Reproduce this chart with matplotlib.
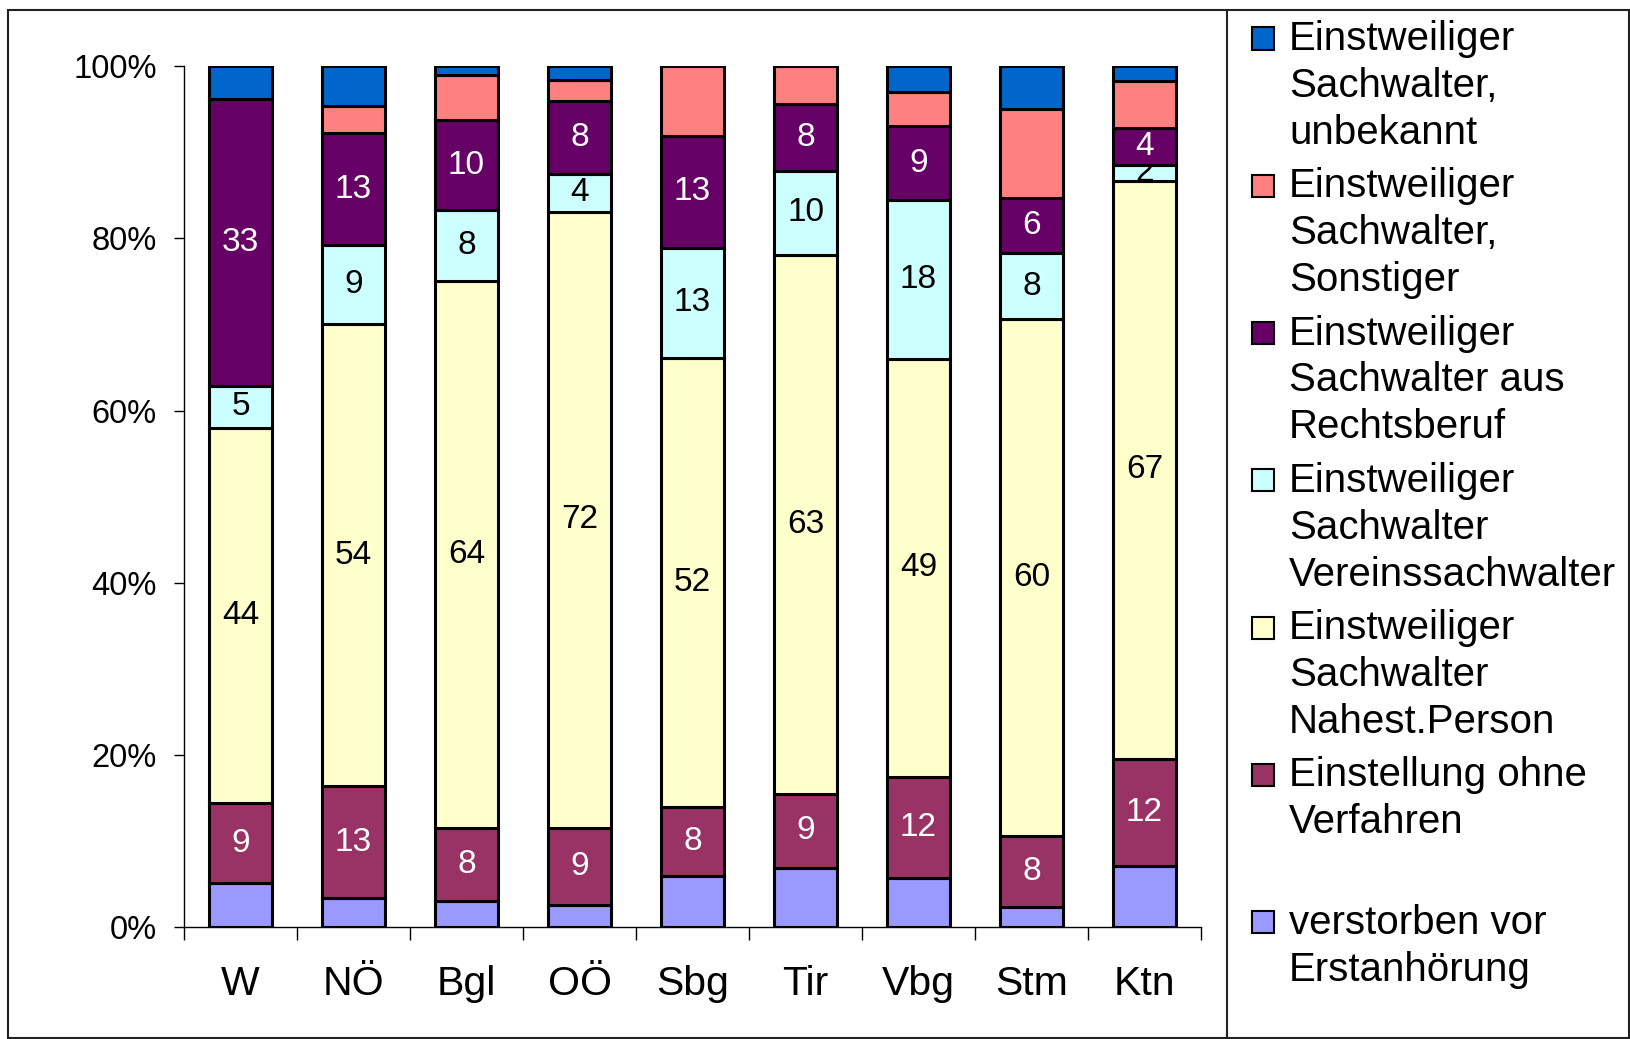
import matplotlib
matplotlib.use('Agg')
import matplotlib.pyplot as plt
import numpy as np
from matplotlib.patches import Rectangle
from matplotlib.lines import Line2D

plt.rcParams['font.family'] = ['Liberation Sans', 'DejaVu Sans']

# ---------------- data (percent of each region, bottom -> top) ----------------
categories = ['W', 'NÖ', 'Bgl', 'OÖ', 'Sbg', 'Tir', 'Vbg', 'Stm', 'Ktn']
verstorben = [5.1, 3.4, 3.1, 2.6, 6.0, 6.9, 5.7, 2.3, 7.1]
einstellung = [9.3, 13.0, 8.4, 8.9, 8.0, 8.6, 11.8, 8.3, 12.4]
nahest = [43.6, 53.6, 63.5, 71.6, 52.1, 62.6, 48.5, 60.0, 67.2]
verein = [4.9, 9.2, 8.3, 4.4, 12.8, 9.7, 18.4, 7.7, 1.8]
rechtsberuf = [33.3, 13.0, 10.4, 8.4, 13.0, 7.8, 8.6, 6.4, 4.3]
sonstiger = [0.0, 3.1, 5.2, 2.5, 8.1, 4.4, 4.0, 10.3, 5.5]
unbekannt = [3.8, 4.7, 1.1, 1.6, 0.0, 0.0, 3.0, 5.0, 1.7]

series_labels = [
    "verstorben vor\nErstanhörung",
    "Einstellung ohne\nVerfahren",
    "Einstweiliger\nSachwalter\nNahest.Person",
    "Einstweiliger\nSachwalter\nVereinssachwalter",
    "Einstweiliger\nSachwalter aus\nRechtsberuf",
    "Einstweiliger\nSachwalter,\nSonstiger",
    "Einstweiliger\nSachwalter,\nunbekannt",
]
yticks = [0, 20, 40, 60, 80, 100]
ytick_labels = ['0%', '20%', '40%', '60%', '80%', '100%']

# ---------------- styling ----------------
series_values = [verstorben, einstellung, nahest, verein, rechtsberuf, sonstiger, unbekannt]
colors = ['#9999FF', '#993366', '#FFFFCC', '#CCFFFF', '#660066', '#FF8080', '#0066CC']
show_label = [False, True, True, True, True, False, False]
label_colors = ['black', 'white', 'black', 'black', 'white', 'black', 'white']

W, H = 1630, 1039
fig = plt.figure(figsize=(W / 100, H / 100), dpi=100)
fig.patch.set_facecolor('white')

ax_left, ax_right, ax_top, ax_bot = 184, 1201, 66, 927.3
ax = fig.add_axes([ax_left / W, 1 - ax_bot / H, (ax_right - ax_left) / W, (ax_bot - ax_top) / H])

x = np.arange(len(categories))
bottom = np.zeros(len(categories))
for i, (vals, col, show, tcol) in enumerate(zip(series_values, colors, show_label, label_colors)):
    v = np.array(vals, dtype=float)
    ax.bar(x, v, 0.55, bottom=bottom, color=col, edgecolor='black', linewidth=2.2,
           zorder=3 + 2 * i)
    if show:
        for xi, b, val in zip(x, bottom, v):
            if val > 0:
                ax.text(xi, b + val / 2, str(int(val + 0.5)), ha='center', va='center',
                        fontsize=24, color=tcol, zorder=4 + 2 * i)
    bottom += v

ax.set_xlim(-0.5, len(categories) - 0.5)
ax.set_ylim(0, 100)
ax.set_yticks(yticks)
ax.set_yticklabels(ytick_labels, fontsize=23.5)
ax.tick_params(axis='y', length=7.2, width=1, pad=12.5, direction='out')
ax.set_xticks(x)
ax.set_xticklabels(categories, fontsize=29.5)
ax.set_xticks(np.arange(-0.5, len(categories), 1), minor=True)
ax.tick_params(axis='x', which='major', length=0, pad=27.5)
ax.tick_params(axis='x', which='minor', length=9.4, width=1, direction='out')
for s in ['top', 'right']:
    ax.spines[s].set_visible(False)
for s in ['left', 'bottom']:
    ax.spines[s].set_linewidth(1)
    ax.spines[s].set_color('black')

# ---------------- outer frame & legend divider ----------------
fig.add_artist(Rectangle((7.5 / W, 1 - 1037.5 / H), (1628.5 - 7.5) / W, (1037.5 - 10) / H,
                         transform=fig.transFigure, fill=False, edgecolor='#222222', lw=1.5))
fig.add_artist(Line2D([1227 / W, 1227 / W], [1 - 10 / H, 1 - 1037.5 / H],
                      transform=fig.transFigure, color='#222222', lw=1.5))

# ---------------- legend (top entry = top segment) ----------------
base0, entry_step, line_step = 50, 147.3, 46.8
for i, idx in enumerate(range(len(series_labels) - 1, -1, -1)):
    b = base0 + i * entry_step
    fig.add_artist(Rectangle((1252 / W, 1 - (b - 0.5) / H), 22 / W, 22 / H,
                             transform=fig.transFigure, facecolor=colors[idx],
                             edgecolor='black', lw=1.5))
    for j, line in enumerate(series_labels[idx].split('\n')):
        fig.text(1289 / W, 1 - (b + j * line_step) / H, line, fontsize=29,
                 ha='left', va='baseline', color='black')

fig.savefig('out.png', dpi=100, facecolor='white')
